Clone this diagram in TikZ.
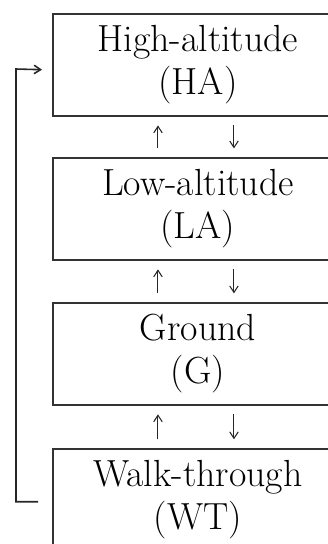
\documentclass[tikz,border=0pt]{standalone}
\usepackage{tikz}
\usetikzlibrary{positioning,arrows.meta,calc}

\begin{document}
\begin{tikzpicture}[
  every node/.style={font=\fontsize{21.5}{24.5}\selectfont},
  mode/.style={rectangle, draw=black!80, line width=1.1pt,
               minimum width=5.8cm, minimum height=2.04cm, align=center, inner sep=0pt},
  updn/.style={-{Straight Barb[length=1.3mm,width=1.7mm]}, line width=0.6pt, black!85,
               shorten <=0.17cm, shorten >=0.17cm},
  loopback/.style={-{Straight Barb[length=1.3mm,width=1.7mm]}, line width=0.9pt, black!85}
]
  \useasboundingbox (0,0) rectangle (6.56,-10.88);
  \clip (0,0) rectangle (6.56,-10.88);
  \node[mode, anchor=north west] at (1.04,-0.26) (ha) {High-altitude\\(HA)};
  \node[mode, below=0.8cm of ha] (la) {Low-altitude\\(LA)};
  \node[mode, below=0.82cm of la] (gr) {Ground\\(G)};
  \node[mode, below=0.84cm of gr] (wt) {Walk-through\\(WT)};
  % up / down between neighbouring modes
  \draw[updn] ([xshift=-0.8cm]la.north) -- ([xshift=-0.8cm]ha.south);
  \draw[updn] ([xshift=0.72cm]ha.south) -- ([xshift=0.72cm]la.north);
  \draw[updn] ([xshift=-0.8cm]gr.north) -- ([xshift=-0.8cm]la.south);
  \draw[updn] ([xshift=0.72cm]la.south) -- ([xshift=0.72cm]gr.north);
  \draw[updn] ([xshift=-0.8cm]wt.north) -- ([xshift=-0.8cm]gr.south);
  \draw[updn] ([xshift=0.72cm]gr.south) -- ([xshift=0.72cm]wt.north);
  % back to the top
  \coordinate (side) at (0.32,0);
  \draw[loopback, shorten <=0.28cm, shorten >=0.2cm]
    ([yshift=-0.04cm]wt.west) -| ($(side)+(0,-1.38)$) -- ([yshift=-0.1cm]ha.west);
\end{tikzpicture}
\end{document}
